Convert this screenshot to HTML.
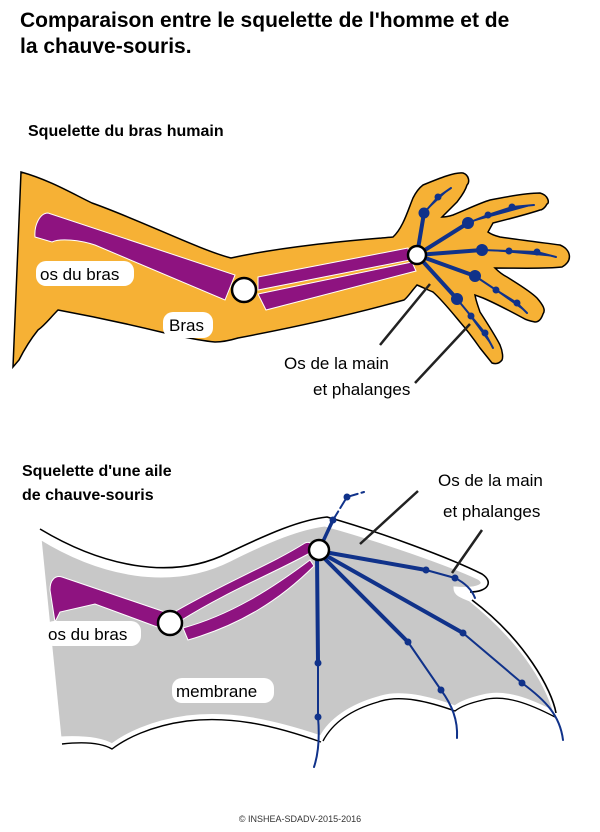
<!DOCTYPE html>
<html><head><meta charset="utf-8"><style>
body{margin:0;background:#fff;width:600px;height:827px;overflow:hidden}
svg text{font-family:"Liberation Sans",sans-serif}
</style></head><body>
<svg width="600" height="827" viewBox="0 0 600 827" xmlns="http://www.w3.org/2000/svg">
<text x="20" y="27" font-size="21" font-weight="bold">Comparaison entre le squelette de l'homme et de</text>
<text x="20" y="53" font-size="21" font-weight="bold">la chauve-souris.</text>
<text x="28" y="136" font-size="16" font-weight="bold">Squelette du bras humain</text>

<!-- Arm -->
<path d="M21,172 C50,180 75,195 92,203 C140,220 200,250 231,258 C290,245 360,240 393,237 C403,228 408,210 413,198 C416,192 419,188 423,185 C440,178 455,172 463,173 C469,175 470,182 467,185 C465,192 460,198 457,202 L442,217 C446,217 450,216 453,215 C470,208 480,203 490,200 C510,196 528,193 540,193 C548,195 550,203 547,204 C545,208 542,210 540,210 C525,215 505,220 493,223 L488,232 C492,235 496,236 500,237 C520,240 545,243 560,245 C570,249 574,260 562,267 C545,269 520,268 495,268 C499,272 503,275 507,277 C518,284 530,291 537,298 C543,305 546,310 543,314 C541,320 538,322 535,322 C530,321 526,320 523,318 C510,311 497,304 483,298 L475,295 C476,301 478,306 480,312 C487,323 495,335 500,345 C503,352 503,358 502,360 C499,364 495,364 492,363 C488,358 484,353 480,348 C473,338 467,330 460,322 C450,310 442,300 433,292 C428,290 422,287 417,285 C410,293 408,297 404,300 C340,318 280,330 238,338 C228,341 222,342 215,342 C195,340 180,336 165,333 C120,322 85,315 58,310 C50,318 45,325 38,330 C30,340 24,350 19,360 L13,367 Z" fill="#f6b135" stroke="#000" stroke-width="1.5"/>
<g stroke="#fff" stroke-width="1">
<path d="M35,237 C34,225 40,213 48,213 L235,275 L225,300 L95,245 C80,240 60,238 52,242 Z" fill="#8e1380"/>
<path d="M258,277 L408,248 L410,260 L258,290 Z" fill="#8e1380"/>
<path d="M258,294 L412,262 L416,271 L266,310 Z" fill="#8e1380"/>
</g>
<circle cx="244" cy="290" r="12" fill="#fff" stroke="#000" stroke-width="2.5"/>
<g stroke="#10328a" fill="#10328a" stroke-linecap="round">
<path d="M417,255 L424,213" stroke-width="4"/><path d="M424,213 L438,197 L451,188" stroke-width="2"/>
<path d="M417,255 L468,223" stroke-width="4"/><path d="M468,223 L488,215 L512,207 L534,205" stroke-width="2"/>
<path d="M417,255 L482,250" stroke-width="4"/><path d="M482,250 L509,251 L537,252 L556,257" stroke-width="2"/>
<path d="M417,255 L475,276" stroke-width="4"/><path d="M475,276 L496,290 L517,303 L527,313" stroke-width="2"/>
<path d="M417,255 L457,299" stroke-width="4"/><path d="M457,299 L471,316 L485,333 L493,348" stroke-width="2"/>
<circle cx="424" cy="213" r="5"/><circle cx="438" cy="197" r="3"/>
<circle cx="468" cy="223" r="5.5"/><circle cx="488" cy="215" r="3"/><circle cx="512" cy="207" r="3"/>
<circle cx="482" cy="250" r="5.5"/><circle cx="509" cy="251" r="3"/><circle cx="537" cy="252" r="3"/>
<circle cx="475" cy="276" r="5.5"/><circle cx="496" cy="290" r="3"/><circle cx="517" cy="303" r="3"/>
<circle cx="457" cy="299" r="5.5"/><circle cx="471" cy="316" r="3"/><circle cx="485" cy="333" r="3"/>
</g>
<circle cx="417" cy="255" r="9" fill="#fff" stroke="#000" stroke-width="2.5"/>
<rect x="36" y="261" width="98" height="25" rx="10" fill="#fff"/>
<text x="40" y="280" font-size="17">os du bras</text>
<rect x="163" y="312" width="50" height="26" rx="10" fill="#fff"/>
<text x="169" y="331" font-size="17">Bras</text>
<path d="M430,284 L380,345 M470,324 L415,383" stroke="#222" stroke-width="2.5"/>
<text x="284" y="369" font-size="17">Os de la main</text>
<text x="313" y="395" font-size="17">et phalanges</text>

<text x="22" y="476" font-size="16" font-weight="bold">Squelette d'une aile</text>
<text x="22" y="500" font-size="16" font-weight="bold">de chauve-souris</text>

<!-- Wing -->
<path d="M40,538 C100,575 170,590 230,560 C270,540 300,528 325,525 C380,540 450,565 478,578 C488,584 480,590 455,588 C455,594 460,596 470,600 C520,640 545,680 555,713 C530,700 505,690 483,696 C470,699 460,703 455,707 C430,698 400,690 378,698 C350,706 330,720 321,737 C270,720 230,712 187,717 C150,722 125,735 112,745 C100,738 80,737 60,738 Z" fill="#c8c8c8" stroke="#fff" stroke-width="3"/>
<path d="M40,529 C100,565 170,582 228,553 C270,533 300,520 327,517 C380,532 450,558 482,574 C494,582 488,592 470,592 M472,600 C525,640 552,690 556,713" fill="none" stroke="#000" stroke-width="1.6"/>
<path d="M555,717 C530,704 505,694 483,700 C470,703 460,707 455,711 C430,702 400,694 378,702 C350,710 332,724 323,741 M321,742 C270,724 230,716 187,721 C150,726 125,739 112,749 C100,742 80,742 62,744" fill="none" stroke="#000" stroke-width="1.4"/>
<g stroke="#fff" stroke-width="1">
<path d="M50,590 C50,580 55,575 62,577 L168,613 L160,628 L95,604 L60,612 L55,622 Z" fill="#8e1380"/>
<path d="M176,611 C230,580 270,565 305,543 C312,540 316,548 310,553 C270,575 230,590 180,621 Z" fill="#8e1380"/>
<path d="M183,628 C230,615 270,590 310,560 L314,566 C280,600 240,625 188,640 Z" fill="#8e1380"/>
</g>
<circle cx="170" cy="623" r="12" fill="#fff" stroke="#000" stroke-width="2.5"/>
<g stroke="#10328a" fill="#10328a" stroke-linecap="round">
<path d="M319,550 L333,520" stroke-width="3.5"/><path d="M333,520 L347,497 L364,492" fill="none" stroke-width="2" stroke-dasharray="10 4"/>
<path d="M317,555 L318,663" stroke-width="4"/><path d="M318,663 L318,717 C320,740 318,755 314,767" fill="none" stroke-width="2"/>
<path d="M322,556 L408,642" stroke-width="4"/><path d="M408,642 L441,690 C452,705 458,720 457,738" fill="none" stroke-width="2"/>
<path d="M325,555 L463,633" stroke-width="4"/><path d="M463,633 L522,683 C545,700 560,715 563,740" fill="none" stroke-width="2"/>
<path d="M330,553 L426,570" stroke-width="4"/><path d="M426,570 L455,578 C465,583 472,590 475,598" fill="none" stroke-width="2"/>
<circle cx="333" cy="520" r="3"/><circle cx="347" cy="497" r="3"/>
<circle cx="318" cy="663" r="3"/><circle cx="318" cy="717" r="3"/>
<circle cx="408" cy="642" r="3"/><circle cx="441" cy="690" r="3"/>
<circle cx="463" cy="633" r="3"/><circle cx="522" cy="683" r="3"/>
<circle cx="426" cy="570" r="3"/><circle cx="455" cy="578" r="3"/>
</g>
<circle cx="319" cy="550" r="10" fill="#fff" stroke="#000" stroke-width="2.5"/>
<rect x="44" y="621" width="97" height="25" rx="10" fill="#fff"/>
<text x="48" y="640" font-size="17">os du bras</text>
<rect x="172" y="678" width="102" height="25" rx="10" fill="#fff"/>
<text x="176" y="697" font-size="17">membrane</text>
<path d="M418,491 L360,544 M482,530 L452,573" stroke="#222" stroke-width="2.5"/>
<text x="438" y="486" font-size="17">Os de la main</text>
<text x="443" y="517" font-size="17">et phalanges</text>

<text x="300" y="822" font-size="9" text-anchor="middle" fill="#333">© INSHEA-SDADV-2015-2016</text>
</svg>
</body></html>
